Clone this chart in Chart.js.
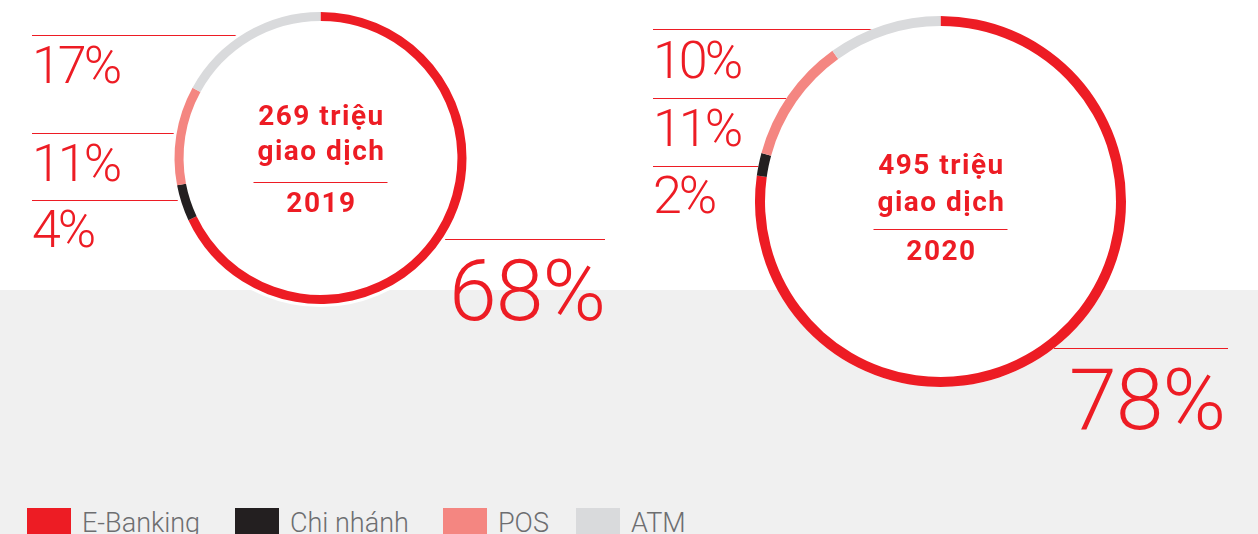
<!DOCTYPE html>
<html>
<head>
<meta charset="utf-8">
<script src="https://cdn.jsdelivr.net/npm/chart.js@4/dist/chart.umd.min.js"></script>
<style>
  html, body { margin: 0; padding: 0; }
  body { width: 1258px; height: 534px; position: relative; overflow: hidden; background: #fff; font-family: Roboto, "Noto Sans", sans-serif; }
  #bgGray { position: absolute; left: 0; top: 290px; width: 1258px; height: 244px; background: #f0f0f0; }
  #overlay { position: absolute; left: 0; top: 0; }
  canvas.donut { position: absolute; }
  #c2019 { left: 170px; top: 8px; }
  #c2020 { left: 751px; top: 12px; }
</style>
</head>
<body>
<div id="bgGray"></div>
<svg id="overlay" width="1258" height="534"></svg>
<canvas id="c2019" class="donut" width="301" height="300"></canvas>
<canvas id="c2020" class="donut" width="379" height="379"></canvas>
<script>
// data
var categories = ['E-Banking', 'Chi nhánh', 'POS', 'ATM'];
var values2019 = [68, 4, 11, 17];
var values2020 = [78, 2, 11, 10];
var totals = ['269 triệu', '495 triệu'];
var years = ['2019', '2020'];
var colors = ['#ed1c24', '#231f20', '#f48681', '#d9dadc'];

var red = '#ed1c24';
var svgNS = 'http://www.w3.org/2000/svg';
var svg = document.getElementById('overlay');

function add(tag, attrs, text) {
	var el = document.createElementNS(svgNS, tag);
	for (var k in attrs) el.setAttribute(k, attrs[k]);
	if (text !== undefined) el.textContent = text;
	svg.appendChild(el);
	return el;
}

// label placement, same order as categories
var labelLayout = [
	[
		{ y: 239, x1: 440, x2: 605, tx: 605, base: 320, size: 86, ls: -1, anchor: 'end' },
		{ y: 200, x1: 32, x2: 182, tx: 32, base: 247, size: 52, ls: -3, anchor: 'start' },
		{ y: 133, x1: 32, x2: 178, tx: 32, base: 181, size: 52, ls: -3, anchor: 'start' },
		{ y: 35, x1: 32, x2: 242, tx: 32, base: 83, size: 52, ls: -3, anchor: 'start' }
	],
	[
		{ y: 348, x1: 1054, x2: 1228, tx: 1225, base: 429, size: 86, ls: -1, anchor: 'end' },
		{ y: 166, x1: 653, x2: 762, tx: 653, base: 213, size: 52, ls: -3, anchor: 'start' },
		{ y: 98, x1: 653, x2: 792, tx: 653, base: 146, size: 52, ls: -3, anchor: 'start' },
		{ y: 29, x1: 653, x2: 875, tx: 653, base: 78, size: 52, ls: -3, anchor: 'start' }
	]
];

[values2019, values2020].forEach(function(vals, i) {
	labelLayout[i].forEach(function(l, j) {
		add('line', { x1: l.x1, x2: l.x2, y1: l.y + 0.5, y2: l.y + 0.5, stroke: red, 'stroke-width': 1 });
		add('text', { x: l.tx, y: l.base, fill: red, 'font-size': l.size, 'font-weight': 300,
			'letter-spacing': l.ls, 'font-family': 'Roboto, sans-serif', 'text-anchor': l.anchor }, vals[j] + '%');
	});
});

// legend
var legendX = [27, 235, 443, 576];
categories.forEach(function(name, i) {
	add('rect', { x: legendX[i], y: 508, width: 44, height: 30, fill: colors[i] });
	add('text', { x: legendX[i] + 55, y: 532, fill: '#6d6e70', 'font-size': 27, 'font-weight': 300,
		'font-family': 'Roboto, sans-serif' }, name);
});

var centerPlugin = {
	id: 'centerText',
	beforeDatasetsDraw: function(chart) {
		var arc = chart.getDatasetMeta(0).data[0];
		var o = chart.options.plugins.centerText;
		var ctx = chart.ctx;
		ctx.save();
		ctx.fillStyle = '#fff';
		ctx.beginPath();
		ctx.arc(arc.x, arc.y, arc.outerRadius + o.halo, 0, Math.PI * 2);
		ctx.fill();
		ctx.restore();
	},
	afterDraw: function(chart) {
		var arc = chart.getDatasetMeta(0).data[0];
		var o = chart.options.plugins.centerText;
		var ctx = chart.ctx;
		ctx.save();
		ctx.fillStyle = red;
		ctx.textAlign = 'center';
		ctx.textBaseline = 'alphabetic';
		ctx.font = '700 ' + o.size + 'px Roboto, sans-serif';
		ctx.letterSpacing = '1.5px';
		ctx.fillText(o.total, arc.x + 1, arc.y + o.offsets[0]);
		ctx.fillText('giao dịch', arc.x + 1, arc.y + o.offsets[1]);
		ctx.fillText(o.year, arc.x + 1, arc.y + o.offsets[3]);
		ctx.strokeStyle = red;
		ctx.lineWidth = 1;
		ctx.beginPath();
		ctx.moveTo(arc.x - 67, Math.round(arc.y + o.offsets[2]) + 0.5);
		ctx.lineTo(arc.x + 67, Math.round(arc.y + o.offsets[2]) + 0.5);
		ctx.stroke();
		ctx.restore();
	}
};

function createChart(id, vals, cutout, pad, center) {
	return new Chart(document.getElementById(id), {
		type: 'doughnut',
		data: {
			labels: categories,
			datasets: [{
				data: vals,
				backgroundColor: colors,
				borderWidth: 0
			}]
		},
		options: {
			responsive: false,
			animation: false,
			cutout: cutout,
			layout: { padding: pad },
			plugins: {
				legend: { display: false },
				tooltip: { enabled: false },
				centerText: center
			}
		},
		plugins: [centerPlugin]
	});
}

createChart('c2019', values2019, '93.8%', 4, { total: totals[0], year: years[0], size: 28, halo: 3, offsets: [-33, 2, 23.5, 54] });
createChart('c2020', values2020, '94.6%', 4, { total: totals[1], year: years[1], size: 28, halo: 0, offsets: [-28, 9, 27.5, 58] });
</script>
</body>
</html>
